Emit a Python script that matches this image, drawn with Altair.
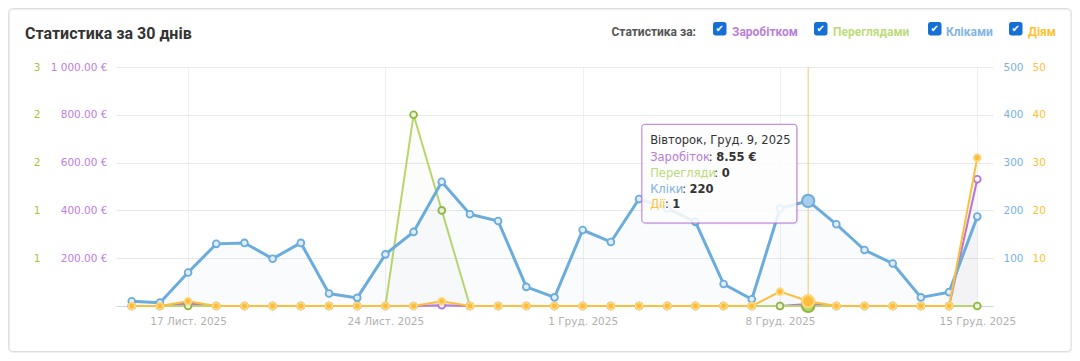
import altair as alt
import pandas as pd

# ---------------- data ----------------
dates = [f"2025-11-{d:02d}" for d in range(15, 31)] + [f"2025-12-{d:02d}" for d in range(1, 16)]
earnings = [0, 0, 10, 0, 0, 0, 0, 0, 0, 0, 0, 3, 0, 0, 0, 0,
            0, 0, 0, 0, 0, 0, 0, 0, 8.55, 0, 0, 0, 0, 0, 530]
views = [0, 0, 0, 0, 0, 0, 0, 0, 0, 0, 2, 1, 0, 0, 0, 0,
         0, 0, 0, 0, 0, 0, 0, 0, 0, 0, 0, 0, 0, 0, 0]
clicks = [10, 7, 70, 130, 132, 99, 132, 26, 17, 108, 155, 260, 192, 178, 40, 18,
          159, 134, 224, 204, 176, 46, 14, 204, 220, 171, 117, 89, 18, 29, 187]
actions = [0, 0, 1, 0, 0, 0, 0, 0, 0, 0, 0, 1, 0, 0, 0, 0,
           0, 0, 0, 0, 0, 0, 0, 3, 1, 0, 0, 0, 0, 0, 31]

hover_index = 24
hover_title = "Вівторок, Груд. 9, 2025"
series_names = ["Заробіток", "Перегляди", "Кліки", "Дії"]
legend_names = ["Заробітком", "Переглядами", "Кліками", "Діям"]
chart_title = "Статистика за 30 днів"
legend_title = "Статистика за:"

df = pd.DataFrame({"date": dates, "earn": earnings, "views": views,
                   "clicks": clicks, "actions": actions})
df_h = df.iloc[[hover_index]].reset_index(drop=True)
one = pd.DataFrame({"k": [0]})

# ---------------- styles ----------------
C_EARN, C_VIEW, C_CLICK, C_ACT = "#b672d8", "#b9d66b", "#6aacdc", "#fdbf3b"
LBL_EARN, LBL_VIEW, LBL_CLICK, LBL_ACT = "#c07ddb", "#a5c445", "#7ab1e3", "#ffbf3a"
AXF = "DejaVu Sans"

x_enc = alt.X(
    "date:T",
    scale=alt.Scale(type="utc", domain=[
        alt.DateTime(year=2025, month=11, date=14, hours=10, minutes=37, utc=True),
        alt.DateTime(year=2025, month=12, date=15, hours=13, minutes=23, utc=True)]),
    axis=alt.Axis(
        values=[alt.DateTime(year=2025, month=11, date=17, utc=True),
                alt.DateTime(year=2025, month=11, date=24, utc=True),
                alt.DateTime(year=2025, month=12, date=1, utc=True),
                alt.DateTime(year=2025, month=12, date=8, utc=True),
                alt.DateTime(year=2025, month=12, date=15, utc=True)],
        labelExpr="utcdate(datum.value) + ' ' + (utcmonth(datum.value) == 10 ? 'Лист.' : 'Груд.') + ' ' + utcyear(datum.value)",
        grid=True, gridColor="#efefef", domainColor="#ccd6eb", domainWidth=1,
        ticks=False, labelColor="#b0b0b0", labelFont=AXF, labelFontSize=10.5,
        labelPadding=10, title=None, labelFlush=False),
)


def yax(field, domain, orient, values, expr, color, offset=0, grid=False, pad=9):
    return alt.Y(
        f"{field}:Q",
        scale=alt.Scale(domain=domain, nice=False, zero=True),
        axis=alt.Axis(orient=orient, values=values, labelExpr=expr, grid=grid,
                      gridColor="#e8e8e8", domain=False, ticks=False, offset=offset,
                      labelColor=color, labelFont=AXF, labelFontSize=10.5,
                      labelPadding=pad, title=None),
    )


y_earn = yax("earn", [0, 1000], "left", [0, 200, 400, 600, 800, 1000],
             "datum.value == 0 ? '' : replace(format(datum.value, ',.2f'), ',', ' ') + ' €'",
             LBL_EARN, grid=True, pad=9)
y_view = yax("views", [0, 2.5], "left", [0.5, 1, 1.5, 2, 2.5],
             "'' + round(datum.value)", LBL_VIEW, offset=67, pad=9)
y_click = yax("clicks", [0, 500], "right", [100, 200, 300, 400, 500],
              "datum.label", LBL_CLICK, pad=10)
y_act = yax("actions", [0, 50], "right", [10, 20, 30, 40, 50],
            "datum.label", LBL_ACT, offset=29, pad=10)


def series(y, color, lw, mfill, mstroke, hfill, hstroke, area_col, area_op):
    base = alt.Chart(df)
    area = base.mark_area(color=area_col, opacity=area_op).encode(x=x_enc, y=y)
    line = base.mark_line(color=color, strokeWidth=lw).encode(x=x_enc, y=y)
    pts = base.mark_point(shape="circle", filled=True, fill=mfill, stroke=mstroke,
                          strokeWidth=1.8, size=46, opacity=1).encode(x=x_enc, y=y)
    hov = alt.Chart(df_h).mark_point(shape="circle", filled=True, fill=hfill, stroke=hstroke,
                                     strokeWidth=2, size=150, opacity=1).encode(x=x_enc, y=y)
    return alt.layer(area, line, pts, hov)


layers = []

# card frame
shadow = alt.Chart(one).mark_rect(filled=False, stroke="#f0f0f0", strokeWidth=1.5, cornerRadius=4).encode(
    x=alt.value(-106.5), x2=alt.value(955.5), y=alt.value(-57.5), y2=alt.value(285.5))
card = alt.Chart(one).mark_rect(filled=False, stroke="#dedede", strokeWidth=1, cornerRadius=4).encode(
    x=alt.value(-107.5), x2=alt.value(955), y=alt.value(-58.5), y2=alt.value(284.5))
layers += [shadow, card]

# title and header legend
layers.append(alt.Chart(one).mark_text(text=chart_title, font="Roboto", fontSize=16, fontWeight="bold",
                                       color="#333333", align="left", baseline="alphabetic").encode(
    x=alt.value(-91), y=alt.value(-28)))
layers.append(alt.Chart(one).mark_text(text=legend_title, font="Roboto", fontSize=12, fontWeight="bold",
                                       color="#555555", align="left", baseline="alphabetic").encode(
    x=alt.value(495.5), y=alt.value(-31.5)))
box_x = [597, 698, 812, 893]
lab_x = [616, 717, 830, 912]
lab_col = ["#b97fda", "#bedc7c", "#84b5e2", "#ffc233"]
for bx, lx, name, col in zip(box_x, lab_x, legend_names, lab_col):
    layers.append(alt.Chart(one).mark_rect(fill="#1670d3", cornerRadius=2.5).encode(
        x=alt.value(bx), x2=alt.value(bx + 13.5), y=alt.value(-45), y2=alt.value(-31.5)))
    layers.append(alt.Chart(one).mark_text(text="✔", font="DejaVu Sans", fontSize=10, color="white",
                                           align="center", baseline="middle").encode(
        x=alt.value(bx + 6.8), y=alt.value(-38)))
    layers.append(alt.Chart(one).mark_text(text=name, font="Roboto", fontSize=12, fontWeight="bold",
                                           color=col, align="left", baseline="alphabetic").encode(
        x=alt.value(lx), y=alt.value(-31.5)))

# crosshair
layers.append(alt.Chart(df_h).mark_rule(color="#f7c25a", strokeWidth=1, opacity=0.9).encode(x=x_enc))

# series
layers.append(series(y_earn, C_EARN, 2, "#ffffff", C_EARN, "#ffffff", C_EARN, "#b0a0b8", 0.05))
layers.append(series(y_view, C_VIEW, 2, "#eef5dc", "#8db83c", "#b5d56a", "#8db83c", "#c8c8b8", 0.05))
layers.append(series(y_click, C_CLICK, 3, "#e1eefa", C_CLICK, "#a8cdef", C_CLICK, "#9fb8d8", 0.06))
layers.append(series(y_act, C_ACT, 2, "#fdbd3c", "#ffd77f", "#fdbd3c", "#ffd77f", "#c8b8a8", 0.04))

# tooltip
tip_shadow = alt.Chart(df_h).mark_rect(fill="#000000", opacity=0.06, cornerRadius=3,
                                       xOffset=-164.8, x2Offset=-9.8).encode(
    x=x_enc, x2="date:T", y=alt.value(58.8), y2=alt.value(157.5))
tip_box = alt.Chart(df_h).mark_rect(fill="#ffffff", fillOpacity=0.86, stroke="#b672d8", strokeWidth=1,
                                    cornerRadius=3, xOffset=-166.3, x2Offset=-11.3).encode(
    x=x_enc, x2="date:T", y=alt.value(57.3), y2=alt.value(156))
layers += [tip_shadow, tip_box]

row = df_h.iloc[0]
tip_values = [f"{row['earn']:.2f} €", f"{int(row['views'])}", f"{int(row['clicks'])}", f"{int(row['actions'])}"]
tip_colors = ["#b57bd9", "#bcd97b", "#7fb3e0", "#ffc233"]
tip_y = [93.5, 109.5, 125.5, 141]
colon_dx = [-99.3, -93.8, -126, -143.2]
value_dx = [-92, -86.4, -118.6, -136]

layers.append(alt.Chart(df_h).mark_text(text=hover_title, font=AXF, fontSize=11.5, color="#333333",
                                        align="left", baseline="alphabetic", dx=-158).encode(
    x=x_enc, y=alt.value(77.3)))
for name, val, col, ty, cdx, vdx in zip(series_names, tip_values, tip_colors, tip_y, colon_dx, value_dx):
    layers.append(alt.Chart(df_h).mark_text(text=name, font=AXF, fontSize=11.5, color=col,
                                            align="left", baseline="alphabetic", dx=-158).encode(
        x=x_enc, y=alt.value(ty)))
    layers.append(alt.Chart(df_h).mark_text(text=":", font=AXF, fontSize=11.5, color="#333333",
                                            align="left", baseline="alphabetic", dx=cdx).encode(
        x=x_enc, y=alt.value(ty)))
    layers.append(alt.Chart(df_h).mark_text(text=val, font=AXF, fontSize=11.5, fontWeight="bold",
                                            color="#333333", align="left", baseline="alphabetic",
                                            dx=vdx).encode(x=x_enc, y=alt.value(ty)))

chart = alt.layer(*layers).resolve_scale(y="independent").properties(
    width=877, height=239,
    autosize=alt.AutoSizeParams(type="none"),
    padding={"left": 108, "top": 59, "right": 79, "bottom": 47},
    background="white",
).configure_view(stroke=None)

chart.save("out.html", embed_options={"renderer": "svg", "actions": False})
